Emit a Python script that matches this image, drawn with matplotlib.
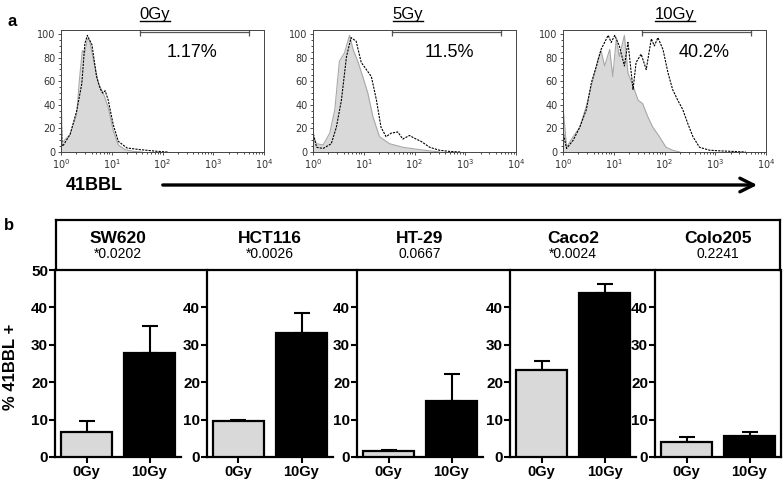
import numpy as np
import matplotlib.pyplot as plt
from matplotlib.patches import FancyArrowPatch
from matplotlib.lines import Line2D
from matplotlib.ticker import LogLocator, MultipleLocator

plt.rcParams['font.family'] = ['Liberation Sans', 'DejaVu Sans']

# ---- panel a: flow histograms (x as log10 fluorescence, y as % of max) ----
doses = ['0Gy', '5Gy', '10Gy']
pct_labels = ['1.17%', '11.5%', '40.2%']
pct_x = [2.59, 2.69, 2.79]

h0_ctrl_x = [0.0, 0.005, 0.02, 0.05, 0.18, 0.31, 0.36, 0.42, 0.47, 0.52, 0.56, 0.64, 0.74, 0.84, 0.93, 1.03, 1.13, 1.26, 1.43, 1.6]
h0_ctrl_y = [0, 52, 9, 9, 15, 32, 60, 86, 84, 96, 95, 78, 58, 49, 38, 18, 6, 2, 0.5, 0]
h0_stain_x = [0.0, 0.005, 0.02, 0.05, 0.18, 0.31, 0.41, 0.47, 0.52, 0.55, 0.61, 0.70, 0.77, 0.82, 0.87, 0.93, 1.03, 1.13, 1.3, 1.56, 1.89, 2.1]
h0_stain_y = [0, 29, 5, 6, 15, 35, 58, 92, 99, 96, 91, 64, 54, 50, 52, 44, 23, 9, 3.4, 2, 0.6, 0]

h5_ctrl_x = [0.0, 0.005, 0.07, 0.2, 0.33, 0.43, 0.52, 0.62, 0.72, 0.79, 0.89, 0.98, 1.08, 1.18, 1.31, 1.51, 1.77, 2.1, 2.3, 2.5]
h5_ctrl_y = [0, 13, 7, 6, 16, 36, 77, 84, 99, 87, 76, 64, 50, 30, 13, 7, 4, 2, 1, 0]
h5_stain_x = [0.0, 0.005, 0.07, 0.2, 0.36, 0.46, 0.56, 0.66, 0.75, 0.85, 0.95, 1.05, 1.15, 1.25, 1.34, 1.44, 1.54, 1.67, 1.77, 1.9, 2.03, 2.13, 2.3, 2.49, 2.69, 2.9]
h5_stain_y = [0, 16, 4, 3, 7, 21, 44, 81, 97, 94, 76, 70, 64, 44, 21, 13, 16, 17, 11, 14, 11, 9, 4, 1.5, 0.5, 0]

h10_ctrl_x = [0.0, 0.005, 0.07, 0.2, 0.33, 0.46, 0.59, 0.69, 0.75, 0.82, 0.92, 0.98, 1.05, 1.11, 1.21, 1.28, 1.38, 1.48, 1.57, 1.67, 1.77, 1.9, 2.03, 2.16, 2.3]
h10_ctrl_y = [0, 36, 4, 13, 21, 39, 61, 79, 86, 73, 87, 64, 96, 81, 99, 67, 56, 44, 41, 30, 21, 13, 4, 1.5, 0]
h10_stain_x = [0.0, 0.005, 0.07, 0.2, 0.33, 0.46, 0.56, 0.66, 0.75, 0.89, 0.95, 1.02, 1.11, 1.21, 1.28, 1.38, 1.44, 1.54, 1.64, 1.74, 1.8, 1.87, 1.97, 2.07, 2.16, 2.26, 2.36, 2.46, 2.56, 2.69, 2.89, 3.08, 3.34, 3.6]
h10_stain_y = [0, 16, 3, 10, 21, 36, 59, 73, 87, 99, 93, 99, 90, 73, 93, 53, 76, 83, 70, 96, 90, 97, 87, 67, 53, 44, 36, 24, 13, 4, 1.5, 1, 0.5, 0]

gate_x = [1.55, 3.7]
gate_y = 101.5

# ---- panel b: bar data ----
cell_lines = ['SW620', 'HCT116', 'HT-29', 'Caco2', 'Colo205']
pvals = ['*0.0202', '*0.0026', '0.0667', '*0.0024', '0.2241']
groups = ['0Gy', '10Gy']
mean_0 = [6.8, 9.6, 1.7, 23.3, 4.1]
mean_10 = [27.8, 33.1, 15.1, 43.8, 5.7]
err_0 = [2.8, 0.3, 0.3, 2.4, 1.3]
err_10 = [7.3, 5.5, 7.1, 2.4, 1.1]

W, H = 784, 482
fig = plt.figure(figsize=(W / 100, H / 100), dpi=100)


def box(l, t, r, b):
    return [l / W, 1 - b / H, (r - l) / W, (b - t) / H]


hists = [(h0_ctrl_x, h0_ctrl_y, h0_stain_x, h0_stain_y),
         (h5_ctrl_x, h5_ctrl_y, h5_stain_x, h5_stain_y),
         (h10_ctrl_x, h10_ctrl_y, h10_stain_x, h10_stain_y)]
hist_lefts = [61, 313, 563]
title_cx = [155, 408, 675]
titles = []
for i, (cx, cy, sx, sy) in enumerate(hists):
    l = hist_lefts[i]
    ax = fig.add_axes(box(l, 30, l + 203, 152))
    ax.fill_between(10 ** np.array(cx), cy, color='#d9d9d9', lw=0)
    ax.plot(10 ** np.array(cx), cy, color='#a8a8a8', lw=0.8)
    ax.plot(10 ** np.array(sx), sy, color='black', lw=0.8, ls=(0, (2, 1)))
    ax.plot(10 ** np.array(gate_x), [gate_y, gate_y], color='#555555', lw=0.9,
            marker='|', ms=6, mew=0.9)
    ax.text(10 ** pct_x[i], 84, pct_labels[i], fontsize=13, ha='center', va='center')
    ax.set_xscale('log')
    ax.set_xlim(1, 1e4)
    ax.set_ylim(0, 103.5)
    ax.set_yticks([0, 20, 40, 60, 80, 100])
    ax.yaxis.set_minor_locator(MultipleLocator(5))
    ax.xaxis.set_major_locator(LogLocator(base=10, numticks=5))
    ax.xaxis.set_minor_locator(LogLocator(base=10, subs=np.arange(2, 10), numticks=10))
    ax.tick_params(labelsize=7, length=2.5, width=0.6, colors='#333333', pad=1.5)
    ax.tick_params(which='minor', length=1.5, width=0.5)
    for lab in ax.get_xticklabels() + ax.get_yticklabels():
        lab.set_fontfamily('DejaVu Sans')
    for s in ax.spines.values():
        s.set_linewidth(0.7)
        s.set_color('#444444')
    titles.append(fig.text(title_cx[i] / W, 1 - 14 / H, doses[i], fontsize=12,
                           ha='center', va='center'))

fig.text(8 / W, 1 - 22 / H, 'a', fontsize=12, fontweight='bold', va='center')
fig.text(94 / W, 1 - 185 / H, '41BBL', fontsize=13, fontweight='bold',
         ha='center', va='center')
fig.add_artist(FancyArrowPatch((160 / W, 1 - 185 / H), (760 / W, 1 - 185 / H),
                               transform=fig.transFigure,
                               arrowstyle='->,head_length=0.7,head_width=0.35',
                               mutation_scale=14, lw=2.4, color='black'))

# panel b
fig.text(4 / W, 1 - 225 / H, 'b', fontsize=12, fontweight='bold', va='center')
head = fig.add_axes(box(56, 220, 780, 270))
head.set_xticks([])
head.set_yticks([])
head.patch.set_alpha(0)
for s in head.spines.values():
    s.set_linewidth(1.6)

bar_lefts = [55, 207, 357, 510, 655]
for i, name in enumerate(cell_lines):
    l = bar_lefts[i]
    ax = fig.add_axes(box(l, 270, l + 126, 457))
    ax.bar([0, 1], [mean_0[i], mean_10[i]], width=0.8, color=['#d9d9d9', 'black'],
           edgecolor='black', linewidth=1.6, zorder=3)
    ax.errorbar([0, 1], [mean_0[i], mean_10[i]], yerr=[[0, 0], [err_0[i], err_10[i]]],
                fmt='none', ecolor='black', elinewidth=1.5, capsize=5.5, capthick=1.5,
                zorder=2)
    ax.set_xlim(-0.5, 1.5)
    ax.set_ylim(0, 50)
    ax.set_yticks([0, 10, 20, 30, 40, 50] if i == 0 else [0, 10, 20, 30, 40])
    ax.set_xticks([0, 1])
    ax.set_xticklabels(groups)
    for lab in ax.get_xticklabels() + ax.get_yticklabels():
        lab.set_fontweight('bold')
    ax.tick_params(axis='y', labelsize=11, length=4, width=1.5, pad=1)
    ax.tick_params(axis='x', labelsize=10.5, length=4, width=1.5, pad=2)
    ax.spines['top'].set_visible(False)
    ax.spines['right'].set_visible(i == len(cell_lines) - 1)
    for s in ax.spines.values():
        s.set_linewidth(1.6)
    ax.patch.set_alpha(0)
    ax.text(0.5, 1.171, name, transform=ax.transAxes, fontsize=12.5, fontweight='bold',
            ha='center', va='center')
    ax.text(0.5, 1.086, pvals[i], transform=ax.transAxes, fontsize=10,
            ha='center', va='center')

fig.text(11 / W, 1 - 367 / H, '% 41BBL +', rotation=90, fontsize=12,
         fontweight='bold', ha='center', va='center')

# underline the dose titles
fig.canvas.draw()
r = fig.canvas.get_renderer()
for t in titles:
    bb = t.get_window_extent(r).transformed(fig.transFigure.inverted())
    fig.add_artist(Line2D([bb.x0, bb.x1], [bb.y0 + 0.002, bb.y0 + 0.002],
                          transform=fig.transFigure, color='black', lw=1.0))

fig.savefig('out.png', dpi=100)
